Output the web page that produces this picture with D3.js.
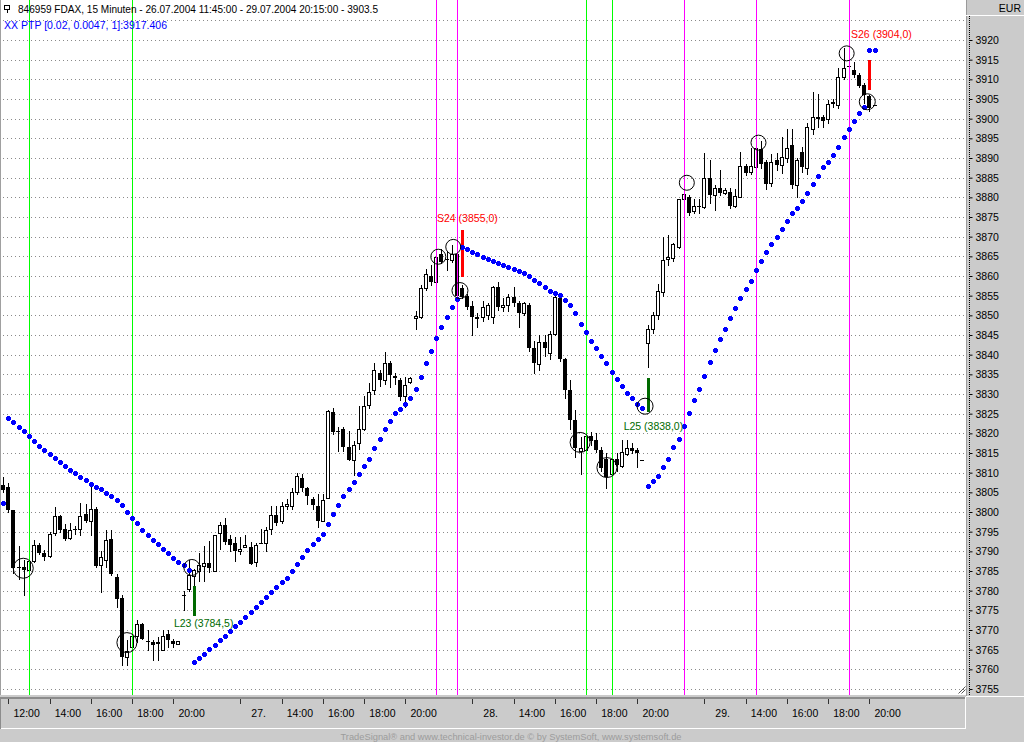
<!DOCTYPE html>
<html><head><meta charset="utf-8">
<script src="https://cdn.jsdelivr.net/npm/d3@7"></script>
<style>
html,body{margin:0;padding:0;background:#fff;overflow:hidden;}
svg{display:block;font-family:"Liberation Sans",Arial,sans-serif;}
</style></head><body>
<svg id="c" width="1024" height="742"></svg>
<script>
// ---------- data ----------
const openP=[3806.8,3806.4,3800.4,3785.9,3786,3785.2,3787.5,3791.6,3789.7,3788.7,
3794.7,3798.9,3795.8,3793.5,3795.8,3795.8,3799.4,3797.7,3800.8,3786.4,
3787.7,3793.2,3783.5,3778.1,3763.1,3765.8,3768.4,3771.4,3767.3,3766.9,
3766.9,3765,3768.9,3767.2,3766.5,3779,3780.3,3783.8,3785.1,3786.3,
3787,3785.1,3794.6,3796.8,3793.2,3792.1,3790,3791,3791.2,3787.2,
3792,3792,3795.7,3799.3,3797.6,3801.6,3801.4,3805,3808.6,3806,
3803.2,3801.6,3797.6,3803.6,3825.5,3820.7,3821.1,3816.6,3813.3,3817.5,
3821.1,3827.3,3831,3835.3,3833.6,3837.9,3834.7,3833.6,3829.5,3833,
3849.2,3849.6,3857,3860.1,3858.4,3865.7,3864.3,3864,3865.7,3857,
3854.8,3852.3,3849.7,3849.6,3850,3849.6,3857.2,3852.1,3852.7,3854.7,
3853.1,3850.6,3852.7,3841.7,3837.6,3843.1,3840.5,3845.2,3854.3,3839,
3831,3823.4,3815.5,3815.7,3819.3,3818.3,3815.7,3813.6,3809.6,3813.4,
3811.8,3814.8,3816.3,3815.7,3813.2,3843,3846.4,3850,3856,3864.3,
3864.5,3867.5,3879.5,3880.2,3876.4,3877.8,3877.5,3884.8,3880.6,3882.3,
3881.2,3881.4,3877.8,3880.2,3888,3886.5,3887.8,3892.2,3889.1,3883.7,
3889.5,3888.2,3889.9,3893.3,3883.1,3891.6,3887.4,3897.3,3900.2,3900.3,
3899.8,3904.3,3903.5,3910.7,3913.5,3912.4,3911.1,3908.6,3905.8,3903.5];
const highP=[3809,3807.5,3800.6,3791.3,3787.7,3788.6,3792.8,3792,3790.3,3794.9,
3801.3,3799.2,3797,3797.2,3796.4,3802.3,3802.1,3806.8,3801.3,3790.1,
3795.3,3795.3,3784.3,3778.8,3767.4,3769.1,3772.5,3771.8,3769.9,3767.4,
3768.2,3769.9,3770,3767.8,3767.3,3780,3787.7,3785.6,3789.7,3791.3,
3792.7,3794.2,3797.4,3798.4,3794.2,3793.6,3793.7,3794.2,3792.3,3792,
3795.8,3796.3,3801.4,3801.4,3802.5,3803.2,3806.1,3809.8,3809.7,3806.3,
3803.7,3804.6,3804.6,3825.9,3826.4,3821.7,3821.5,3820.7,3818.1,3827,
3829.6,3832.7,3838,3836,3840.6,3838.5,3835.3,3834,3834.2,3834.2,
3851.2,3857.8,3861.8,3862.9,3866.5,3866.9,3866.3,3868,3867.5,3857.8,
3855.5,3853.6,3850.6,3853.6,3853.2,3857.5,3858.6,3854.4,3855.3,3857.2,
3853.6,3853.5,3853.2,3843.5,3845,3845.1,3846,3855.1,3854.7,3839.2,
3833.5,3826,3819,3820.4,3820.4,3820,3816.5,3814.9,3814.9,3815,
3818.2,3818.2,3817.6,3816.3,3813.2,3847.5,3850.9,3858,3870,3870.4,
3868.3,3879.7,3885.4,3880.6,3879.5,3879.5,3891.2,3889.5,3883.1,3887,
3882.5,3882.3,3882,3891.6,3888.5,3892.5,3892.9,3894.4,3889.5,3891,
3891.2,3895.4,3897.5,3897.5,3890,3892.9,3899,3906.9,3906.3,3901,
3904.7,3904.9,3913,3918,3915,3914.5,3911.7,3909,3906,3903.5];
const lowP=[3805,3800,3784.5,3783,3778.8,3782.8,3787.3,3789.4,3787.9,3788.6,
3794.1,3794.9,3793,3793.2,3794.3,3794.1,3797.5,3794.1,3786,3779.7,
3786,3784,3775.8,3761,3761,3761,3767,3767.6,3764.8,3762.5,
3762.3,3764.8,3765.7,3765.7,3766.5,3775,3779.8,3781,3782.5,3782.5,
3784.7,3785,3790.6,3791.9,3790.2,3787.6,3789.3,3791,3786.7,3786.2,
3792,3790,3794.4,3796.8,3797.1,3800.8,3800.8,3804.6,3805.3,3802,
3800.8,3796.1,3797.6,3803.6,3819.8,3815.4,3815.6,3813.1,3809.5,3816,
3820.8,3826.4,3830,3832,3832.5,3831.9,3832.5,3828.5,3826.8,3832.7,
3846.5,3849.4,3856.4,3857.8,3858,3863.3,3861.4,3863.5,3854,3854.3,
3851.6,3845.1,3847,3848.5,3849,3848,3851.3,3851,3851,3852.4,
3847,3850,3841,3835.4,3836.2,3839.6,3839,3845,3838.5,3829,
3821.2,3814,3809.6,3813.5,3817,3815.3,3810.5,3806,3808,3810.5,
3811.5,3814.5,3815,3811.4,3813.2,3836.9,3845.5,3849,3855,3862.8,
3863.9,3867,3878,3875.5,3875.9,3875.9,3877.2,3878.5,3876.8,3880.6,
3880.8,3877.2,3877.6,3880,3885.7,3885.9,3886.3,3887.5,3882,3883,
3887,3886.1,3889,3882.5,3880.2,3886.5,3886,3896,3897.8,3897.8,
3899,3903,3902.6,3910,3912,3910.5,3908,3903.9,3902,3903.5];
const closeP=[3805.7,3800.4,3785.8,3785.7,3785.3,3787.5,3791.6,3789.7,3788.6,3794.3,
3798.9,3795.5,3793.1,3795.3,3795.8,3798.9,3797.7,3800.8,3786.2,3788.6,
3792.8,3784.3,3778,3763.1,3764.6,3768.4,3771.4,3767.8,3767.2,3766.1,
3766.5,3768.4,3767.5,3766.5,3767.3,3778.6,3783.9,3785.3,3786.4,3787,
3785.7,3794.2,3796.7,3792.3,3791.5,3790,3790.6,3791.7,3786.7,3791.7,
3792,3795.3,3799.3,3797.1,3801.6,3802.1,3805.2,3809.2,3806,3804,
3801.9,3797.6,3803.1,3825.6,3820.4,3820.7,3816.4,3813.3,3817,3821.1,
3827,3830.6,3836,3833.6,3837.9,3834.8,3834,3829.2,3832.2,3834,
3849.8,3857,3860.6,3858.5,3864.9,3863.5,3864.3,3865.7,3854.8,3854.7,
3852.1,3849.6,3849.1,3852.1,3852.5,3857.2,3852.1,3852.5,3854.7,3853.1,
3850.6,3853.1,3841.7,3837.9,3843.3,3841.7,3845.2,3854.6,3839,3831,
3823.4,3816.2,3816.3,3819.3,3818.1,3815.7,3811.1,3809,3813.6,3811.9,
3815.3,3816.3,3815.5,3815,3813.2,3846.4,3850,3856.2,3864.1,3864.9,
3868.1,3879.5,3880.8,3875.9,3877.8,3877.8,3884.8,3880.6,3882.3,3881,
3881.8,3877.8,3880.3,3888,3886.3,3888,3892.5,3888.5,3883.4,3889.1,
3888.2,3890.3,3892.5,3883.1,3889.5,3887.8,3897.8,3900.3,3900.4,3899.5,
3903.7,3903.7,3910.7,3913,3913.3,3911.1,3908.3,3906,3902.6,3903.5];
// PTP stop (one dot per bar)
const ptp=[3802.2,3823.9,3822.9,3821.6,3820.6,3819.3,3818.0,3816.8,3815.8,3814.7,
3813.7,3812.8,3811.8,3810.8,3810.0,3809.0,3808.1,3807.1,3806.3,3805.8,
3804.9,3804.1,3803.0,3801.8,3800.1,3798.6,3797.1,3795.4,3794.1,3792.9,
3791.8,3790.6,3789.5,3788.2,3787.3,3786.5,3785.2,3761.8,3762.9,3764.0,
3765.2,3766.3,3767.4,3768.6,3769.7,3770.9,3772.0,3773.3,3774.6,3775.8,
3777.1,3778.4,3779.6,3780.9,3782.1,3783.3,3785.0,3786.8,3788.6,3790.3,
3791.9,3793.1,3794.4,3796.9,3799.5,3801.8,3804.1,3805.8,3807.7,3809.7,
3811.7,3813.6,3816.2,3818.5,3821.0,3823.1,3825.1,3826.2,3827.4,3829.0,
3831.3,3834.4,3837.8,3841.0,3844.3,3847.1,3849.5,3852.2,3854.1,3867.3,
3866.8,3866.2,3865.6,3864.9,3864.2,3863.7,3863.2,3862.8,3862.4,3861.8,
3861.3,3860.8,3860.0,3859.0,3858.1,3857.3,3856.3,3855.6,3855.2,3853.9,
3852.6,3850.5,3847.8,3845.8,3843.5,3841.8,3839.7,3837.8,3835.7,3833.8,
3832.0,3830.3,3828.9,3827.4,3826.4,3806.6,3807.9,3809.1,3811.4,3813.6,
3816.4,3818.6,3821.9,3825.2,3828.5,3831.3,3834.7,3838.2,3841.2,3844.0,
3846.6,3849.2,3851.9,3854.3,3856.6,3858.8,3861.5,3863.8,3866.2,3868.1,
3870.0,3871.9,3874.0,3875.9,3877.4,3879.1,3881.0,3883.3,3885.4,3887.8,
3889.1,3890.8,3892.9,3895.4,3897.5,3899.5,3901.5,3902.9,3917.5,3917.5];
// time axis (bar index of each tick) and labels
const tickIdx=[1,9,17,25,33,46,54,62,70,78,91,99,107,115,123,136,144,152,160,168];
const tickLabels=["12:00","14:00","16:00","18:00","20:00","27.","14:00","16:00","18:00","20:00",
"28.","14:00","16:00","18:00","20:00","29.","14:00","16:00","18:00","20:00"];
const priceTicks=d3.range(3755,3921,5);
const gridLevels=d3.range(3755,3926,5);
// vertical marker lines (bar index)
const greenLines=[5,25,113,118];
const magentaLines=[84,88,132,146,164];
// pivot circles
const circleIdx=[3.9,24.0,36.6,84.4,87.3,88.6,111.9,117.1,124.5,132.6,146.5,163.6,167.6];
const circleVal=[3785.7,3766.8,3785.9,3864.9,3867.4,3856.3,3817.7,3811.3,3826.9,3883.7,3893.9,3916.6,3904.3];
const circleKind=["low","low","stop","high","high","stop","low","low","stop","high","high","high","stop"];
// signals
const sigIdx=[37,89,125,168];
const sigFrom=[3773.5,3871.6,3825.5,3914.9];
const sigTo=[3781.2,3859.7,3834.0,3907.3];
const sigType=["L","S","L","S"];
const sigLabel=["L23 (3784,5)","S24 (3855,0)","L25 (3838,0)","S26 (3904,0)"];

// ---------- layout ----------
const W=1024,H=742;
const plotR=966, plotB=695;
const svg=d3.select("#c");
const x=d3.scaleLinear().domain([0,169]).range([3.15,874.5]);
const y=d3.scaleLinear().domain([3755,3920]).range([689,40]);
const px=i=>Math.round(x(i));
const py=v=>Math.round(y(v));

svg.append("rect").attr("width",W).attr("height",H).attr("fill","#fff");

// grid
svg.append("g").selectAll("line").data(gridLevels).join("line")
 .attr("x1",3).attr("x2",plotR).attr("y1",d=>py(d)+0.5).attr("y2",d=>py(d)+0.5)
 .attr("stroke","#8a8a8a").attr("stroke-dasharray","1,3");

// candles
const idx=d3.range(openP.length);
const up=i=>closeP[i]>openP[i];
const cg=svg.append("g").attr("shape-rendering","crispEdges");
cg.selectAll("line.wick").data(idx).join("line").attr("class","wick")
 .attr("x1",i=>px(i)+0.5).attr("x2",i=>px(i)+0.5)
 .attr("y1",i=>py(highP[i])).attr("y2",i=>py(lowP[i])+1)
 .attr("stroke","#000");
cg.selectAll("rect.body").data(idx).join("rect").attr("class","body")
 .attr("x",i=>up(i)?px(i)-1.5:px(i)-2)
 .attr("y",i=>{const t=py(Math.max(openP[i],closeP[i]));return up(i)?t+0.5:t;})
 .attr("width",i=>up(i)?3:4)
 .attr("height",i=>Math.max(1,py(Math.min(openP[i],closeP[i]))-py(Math.max(openP[i],closeP[i]))))
 .attr("fill",i=>up(i)?"#fff":"#000")
 .attr("stroke",i=>up(i)?"#000":"none");

// vertical marker lines (1px filled rects)
const vLines=greenLines.map(i=>({i,c:"#00ff00"})).concat(magentaLines.map(i=>({i,c:"#ff00ff"})));
svg.append("g").attr("shape-rendering","crispEdges")
 .selectAll("rect.vline").data(vLines).join("rect").attr("class","vline")
 .attr("x",d=>px(d.i)).attr("y",0).attr("width",1).attr("height",plotB)
 .style("fill",d=>d.c);

// signal bars
const sg=svg.append("g").attr("shape-rendering","crispEdges");
sg.selectAll("rect").data(d3.range(sigIdx.length)).join("rect")
 .attr("x",k=>px(sigIdx[k])-1).attr("width",3)
 .attr("y",k=>py(Math.max(sigFrom[k],sigTo[k])))
 .attr("height",k=>Math.abs(py(sigFrom[k])-py(sigTo[k])))
 .attr("fill",k=>sigType[k]==="L"?"#006a00":"#ff0000");

// PTP dots (plus-shaped)
const dg=svg.append("g").attr("fill","#0000ff").attr("shape-rendering","crispEdges");
idx.forEach(i=>{
  const cx=px(i), cy=py(ptp[i]);
  dg.append("rect").attr("x",cx-2).attr("y",cy-1).attr("width",5).attr("height",3);
  dg.append("rect").attr("x",cx-1).attr("y",cy-2).attr("width",3).attr("height",5);
});

// pivot circles
const rOf={low:10,high:7.5,stop:8};
svg.append("g").selectAll("circle").data(d3.range(circleIdx.length)).join("circle")
 .attr("cx",k=>x(circleIdx[k])).attr("cy",k=>y(circleVal[k]))
 .attr("r",k=>rOf[circleKind[k]]).attr("fill","none").attr("stroke","#000").attr("stroke-width",1);

// signal labels
const labOff=[[-20,11],[-25,-8.5],[-24,18.5],[-18.3,-22.5]];
svg.append("g").selectAll("text").data(d3.range(sigIdx.length)).join("text")
 .attr("x",k=>x(sigIdx[k])+labOff[k][0])
 .attr("y",k=>y(sigFrom[k])+labOff[k][1])
 .attr("font-size","10.5px")
 .attr("fill",k=>sigType[k]==="L"?"#006a00":"#ff0000")
 .text(k=>sigLabel[k]);

// left border
svg.append("line").attr("x1",0.5).attr("x2",0.5).attr("y1",0).attr("y2",plotB).attr("stroke","#a0a0a0");

// ---------- right price axis ----------
const ra=svg.append("g").attr("shape-rendering","crispEdges");
ra.append("rect").attr("x",plotR).attr("y",0).attr("width",W-plotR).attr("height",H).attr("fill","#cbcbcb");
ra.append("line").attr("x1",plotR+0.5).attr("x2",plotR+0.5).attr("y1",0).attr("y2",697).attr("stroke","#9a9a9a");
ra.append("line").attr("x1",plotR).attr("x2",W).attr("y1",15.5).attr("y2",15.5).attr("stroke","#fff");
ra.append("line").attr("x1",plotR).attr("x2",W).attr("y1",696.5).attr("y2",696.5).attr("stroke","#fff");
ra.append("line").attr("x1",969.5).attr("x2",969.5).attr("y1",16).attr("y2",696)
 .attr("stroke","#000").attr("stroke-dasharray","1,1");
svg.append("text").attr("x",1021).attr("y",12).attr("text-anchor","end")
 .attr("font-size","10.5px").attr("fill","#000").text("EUR");
const yAxis=d3.axisRight(y).tickValues(priceTicks).tickSize(3).tickPadding(3).tickFormat(d3.format("d"));
const yg=svg.append("g").attr("transform","translate(969.5,0)").call(yAxis);
yg.select(".domain").remove();
yg.selectAll(".tick line").attr("stroke","#000");
yg.selectAll(".tick text").attr("font-size","10.5px").attr("fill","#000")
 .attr("font-family","'Liberation Sans',Arial,sans-serif");

// ---------- bottom time axis ----------
const ba=svg.append("g").attr("shape-rendering","crispEdges");
ba.append("rect").attr("x",0).attr("y",plotB).attr("width",plotR).attr("height",H-plotB).attr("fill","#cbcbcb");
ba.append("line").attr("x1",0).attr("x2",plotR).attr("y1",698).attr("y2",698).attr("stroke","#8c8c8c").attr("stroke-width",2);
ba.append("line").attr("x1",0).attr("x2",plotR).attr("y1",728.5).attr("y2",728.5).attr("stroke","#fff");
ba.append("line").attr("x1",965.5).attr("x2",965.5).attr("y1",697).attr("y2",729).attr("stroke","#fff");
ba.append("line").attr("x1",0.5).attr("x2",0.5).attr("y1",697).attr("y2",729).attr("stroke","#8c8c8c");
const xg=svg.append("g");
xg.selectAll("line").data(tickIdx).join("line")
 .attr("x1",i=>px(i)+0.5).attr("x2",i=>px(i)+0.5).attr("y1",699).attr("y2",704)
 .attr("stroke","#333").attr("shape-rendering","crispEdges");
xg.selectAll("text").data(tickIdx).join("text")
 .attr("x",i=>x(i)+18.3).attr("y",716.5).attr("text-anchor","middle")
 .attr("font-size","10.5px").attr("fill","#000")
 .text((d,k)=>tickLabels[k]);

// footer
svg.append("text").attr("x",511).attr("y",739.5).attr("text-anchor","middle")
 .attr("font-size","9.3px").attr("fill","#9c9c9c")
 .text("TradeSignal® and www.technical-investor.de © by  SystemSoft, www.systemsoft.de");

// resize glyph
svg.append("path").attr("d","M958.5,693.5 L965.5,686.5 M961.5,693.5 L965.5,689.5")
 .attr("stroke","#555").attr("fill","none");

// ---------- header ----------
const hg=svg.append("g").attr("shape-rendering","crispEdges");
hg.append("rect").attr("x",4.5).attr("y",5.5).attr("width",5).attr("height",4).attr("fill","none").attr("stroke","#000");
hg.append("line").attr("x1",7).attr("x2",7).attr("y1",9).attr("y2",13).attr("stroke","#000");
svg.append("text").attr("x",18).attr("y",13).attr("font-size","11.2px").attr("fill","#000")
 .attr("textLength",360).attr("lengthAdjust","spacingAndGlyphs")
 .text("846959  FDAX, 15 Minuten - 26.07.2004 11:45:00 - 29.07.2004 20:15:00 - 3903.5");
svg.append("text").attr("x",4).attr("y",28.5).attr("font-size","11.2px").attr("fill","#0000ff")
 .attr("textLength",163).attr("lengthAdjust","spacingAndGlyphs")
 .text("XX PTP [0.02, 0.0047, 1]:3917.406");
</script>
</body></html>
